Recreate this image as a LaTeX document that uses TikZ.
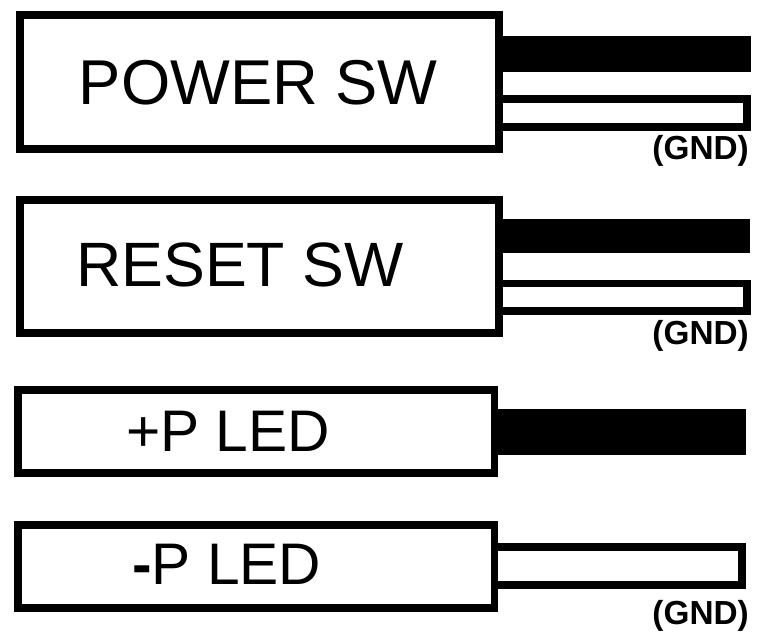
\documentclass[tikz,border=0pt]{standalone}
\usepackage{fontspec}
\setmainfont{Liberation Sans}
\tikzset{x=0.75pt,y=-0.75pt,
 boxs/.style={draw=black,line width=5.85pt,fill=white},
 wire/.style={draw=black,line width=5.6pt,fill=white,line join=miter},
 lab/.style={anchor=base west,inner sep=0pt},
 gnd/.style={font=\fontsize{25}{25}\selectfont\bfseries,anchor=base east,inner sep=0pt}}
\begin{document}
\begin{tikzpicture}
\useasboundingbox (0,0) rectangle (775,637);
\fill[white] (0,0) rectangle (775,637);
% power
\fill[black] (499,36) rectangle (750.7,71.7);
\draw[wire] (499,98.9) rectangle (747,127);
\draw[boxs] (19.7,15) rectangle (498.9,149);
\node[lab,font=\fontsize{47.5}{47.5}\selectfont] (t1) at (78.5,104) {POWER SW};
\node[gnd] (g1) at (749,159.5) {(GND)};
% reset
\fill[black] (499,219) rectangle (750,252.7);
\draw[wire] (499,283.3) rectangle (747,311);
\draw[boxs] (19.7,200) rectangle (498.9,333.3);
\node[lab,font=\fontsize{47}{47}\selectfont] (t2) at (76,286.5) {RESET SW};
\node[gnd] (g2) at (749,344.3) {(GND)};
% +P
\fill[black] (494.5,409.3) rectangle (745.7,455.3);
\draw[boxs] (18,390) rectangle (494.5,473.3);
\node[lab,font=\fontsize{44}{44}\selectfont] (t3) at (126,451.3) {+P LED};
% -P
\draw[wire] (494.5,547) rectangle (742,585);
\draw[boxs] (18,524.7) rectangle (494.5,608);
\node[lab,font=\fontsize{44}{44}\selectfont] (t4) at (132,584.3) {\textbf{-}P LED};
\node[gnd] (g4) at (749,624.5) {(GND)};
\end{tikzpicture}
\end{document}
